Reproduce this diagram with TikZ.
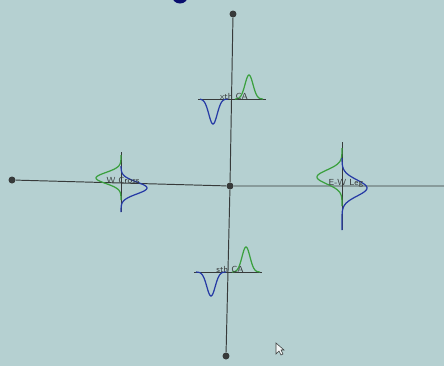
\documentclass[tikz,border=0pt]{standalone}
\usepackage{tikz}
\usetikzlibrary{arrows.meta, positioning, calc}
\definecolor{latarps}{RGB}{181,208,209}
\definecolor{garisps}{RGB}{55,58,58}
\definecolor{birups}{RGB}{38,58,165}
\definecolor{hijaups}{RGB}{58,160,62}
\definecolor{navyps}{RGB}{10,14,110}

\begin{document}
\begin{tikzpicture}[x=0.02cm, y=-0.02cm, font=\fontsize{5}{6}\selectfont\sffamily,
    dot/.style={circle, fill=garisps, inner sep=0pt, minimum size=0.14cm},
    axis/.style={draw=garisps, line width=0.55pt},
    kurva/.style={line width=0.7pt},
    lbl/.style={text=garisps, inner sep=0pt}]
                \clip (0,0) rectangle (444,366);
                \fill[latarps] (0,0) rectangle (444,366);
                \fill[navyps] (180,-4) ellipse (8 and 7.5);
                % main cross
                \node[dot] (north) at (233,14) {};
                \node[dot] (south) at (226,356) {};
                \node[dot] (west)  at (12,180) {};
                \node[dot] (pusat) at (230,186) {};
                \coordinate (east) at (444,186);
                \draw[axis] (north) -- (pusat) -- (south);
                \draw[axis] (west) -- (pusat) -- (east);
                % top trace
                \draw[axis] (198,99) -- (266,99);
                \draw[kurva, birups] plot[domain=200:228, samples=60] (\x, {99+25*exp(-((\x-213)/4.2)^2/2)});
                \draw[kurva, hijaups] plot[domain=235:263, samples=60] (\x, {99-24*exp(-((\x-249)/4)^2/2)});
                \node[lbl] (atas) at (234,96) {xth CA};
                % bottom trace
                \draw[axis] (194,272) -- (262,272);
                \draw[kurva, birups] plot[domain=196:226, samples=60] (\x, {272+24*exp(-((\x-211)/4.2)^2/2)});
                \draw[kurva, hijaups] plot[domain=232:260, samples=60] (\x, {272-25*exp(-((\x-246)/4)^2/2)});
                \node[lbl] (bawah) at (230,269) {sth CA};
                % west trace
                \draw[axis] (121,152) -- (121,212);
                \draw[kurva, hijaups] plot[domain=155:200, samples=60] ({121-25*exp(-((\x-178)/5.5)^2/2)}, \x);
                \draw[kurva, birups] plot[domain=166:212, samples=60] ({121+26*exp(-((\x-188)/6)^2/2)}, \x);
                \node[lbl] (barat) at (123,180) {W Cross};
                % east trace
                \draw[axis] (342,142) -- (342,230);
                \draw[kurva, hijaups] plot[domain=148:206, samples=70] ({342-25*exp(-((\x-177)/7)^2/2)}, \x);
                \draw[kurva, birups] plot[domain=158:230, samples=70] ({342+25*exp(-((\x-188)/8)^2/2)}, \x);
                \node[lbl] (timur) at (346,183) {E-W Leg};
                % pointer
                \draw[garisps, fill=white!85!latarps, line width=0.3pt] (276,343) -- (276,354) -- (279,351) -- (281,355) -- (283,354) -- (281,350) -- (284,350) -- cycle;
            \end{tikzpicture}
\end{document}
